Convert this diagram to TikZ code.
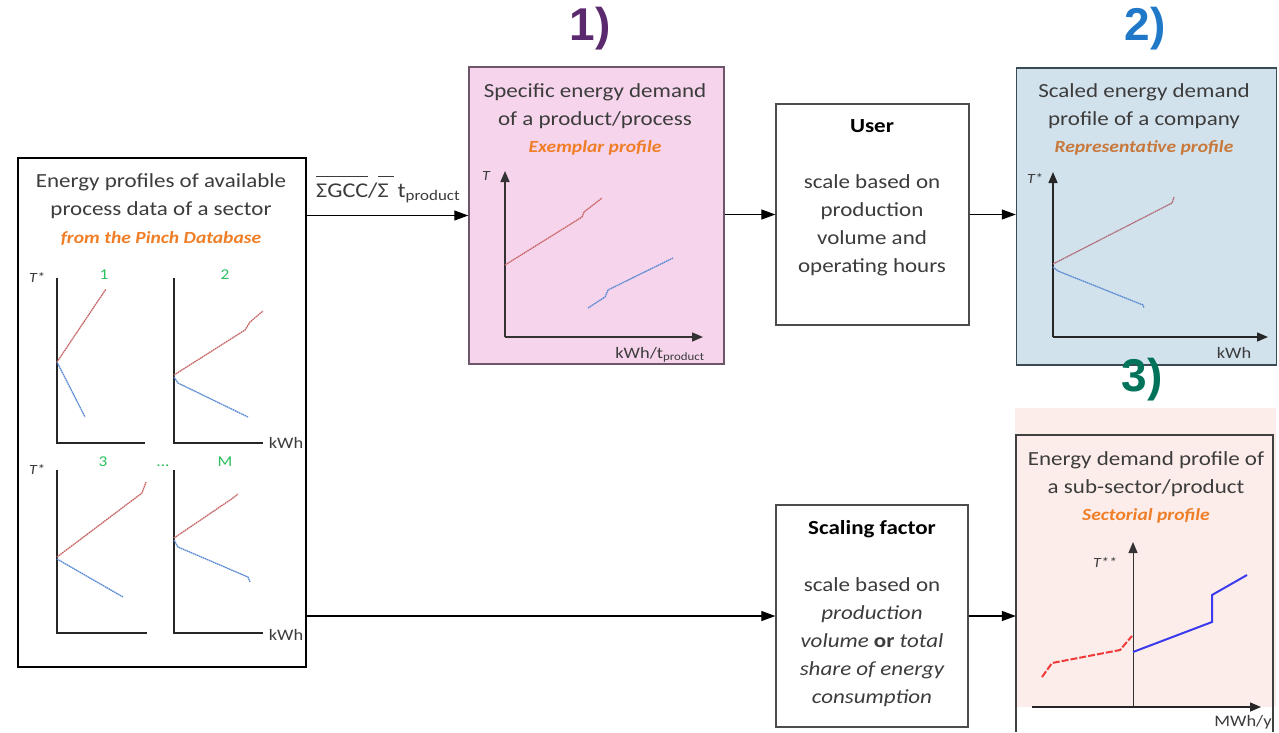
\documentclass[tikz,border=0pt]{standalone}
\usepackage{fontspec}
\setmainfont{Carlito}[FakeStretch=1.15]
\newfontfamily\numfont{Liberation Sans}
\usetikzlibrary{arrows.meta}
\definecolor{pinkfill}{HTML}{F6D5EC}
\definecolor{pinkline}{HTML}{6E566A}
\definecolor{bluefill}{HTML}{D2E2EC}
\definecolor{blueline}{HTML}{3A4A52}
\definecolor{secfill}{HTML}{FCEDEA}
\definecolor{txtgray}{HTML}{3C3C3C}
\definecolor{orng}{HTML}{F07E26}
\definecolor{orngb}{HTML}{C8783A}
\definecolor{grn}{HTML}{2CBF5E}
\definecolor{redc}{HTML}{C86868}
\definecolor{redc2}{HTML}{B06A78}
\definecolor{bluec}{HTML}{5A8AD2}
\definecolor{numpurple}{HTML}{5B2A6E}
\definecolor{numblue}{HTML}{1F78C8}
\definecolor{numgreen}{HTML}{00735A}
\definecolor{secred}{HTML}{F03A3A}
\definecolor{secblue}{HTML}{3A3AEE}
\tikzset{
  box/.style={draw, line width=1.5pt, inner sep=0pt},
  ln/.style={anchor=base, inner sep=0pt, text=txtgray, font=\fontsize{20}{24}\selectfont},
  lnb/.style={ln, font=\fontsize{20}{24}\selectfont\bfseries, text=black},
  lni/.style={ln, font=\fontsize{20}{24}\selectfont\itshape},
  orl/.style={anchor=base, inner sep=0pt, font=\fontsize{17}{20}\selectfont\bfseries\itshape},
  small/.style={anchor=base, inner sep=0pt, text=txtgray, font=\fontsize{16}{18}\selectfont},
  tl/.style={anchor=base, inner sep=0pt, text=txtgray, font=\fontsize{14}{16}\selectfont\itshape},
  gl/.style={anchor=base, inner sep=0pt, text=grn, font=\fontsize{15}{17}\selectfont},
  num/.style={inner sep=0pt, font=\fontsize{46}{50}\selectfont\numfont\bfseries},
  arr/.style={line width=1.2pt, -{Triangle[length=14pt,width=10pt]}},
  axis/.style={line width=1.5pt, black!85},
  axarr/.style={line width=1.5pt, -{Triangle[length=11pt,width=9pt]}},
  rcurve/.style={line width=1.3pt, redc, dash pattern=on 1.6pt off 0.6pt},
  bcurve/.style={line width=1.3pt, bluec, dash pattern=on 1.6pt off 0.6pt}
}
\begin{document}
\begin{tikzpicture}[x=1pt,y=-1pt]
\useasboundingbox (0,0) rectangle (1279,732);
\fill[white] (0,0) rectangle (1279,732);

% ---------- boxes ----------
\node[box, minimum width=288pt, minimum height=509pt] (src) at (162,412.5) {};
\node[box, draw=pinkline, fill=pinkfill, minimum width=255pt, minimum height=297pt] (ex) at (596.5,215.5) {};
\node[box, draw=black!70, line width=1.3pt, minimum width=193pt, minimum height=221pt] (usr) at (872.5,214.5) {};
\node[box, draw=blueline, fill=bluefill, minimum width=260pt, minimum height=297pt] (co) at (1146.5,216.5) {};
\node[box, draw=black!70, line width=1.3pt, minimum width=192pt, minimum height=222pt] (sf) at (872,616) {};
\fill[secfill] (1015,408) rectangle (1276,707);
\node[draw=none, minimum width=257pt, minimum height=297pt, inner sep=0pt] (sec) at (1144.5,583.5) {};
\draw[line width=1.5pt, draw=black!75] (sec.south west) -- (sec.north west) -- (sec.north east) -- (sec.south east);

% ---------- step numbers ----------
\node[num, text=numpurple] (n1) at (590,29) {1)};
\node[num, text=numblue] (n2) at (1145,29) {2)};
\node[num, text=numgreen] (n3) at (1142,380) {3)};

% ---------- left box text ----------
\node[ln] (s1) at (161,187) {Energy profiles of available};
\node[ln] (s2) at (161,215) {process data of a sector};
\node[orl, text=orng] (s3) at (161,243) {from the Pinch Database};

% mini plots
\draw[axis] (57,278) -- (57,443) -- (145,443);
\draw[axis] (174,278) -- (174,443) -- (263,443);
\draw[axis] (57,470) -- (57,633) -- (147,633);
\draw[axis] (174,470) -- (174,633) -- (263,633);
\node[tl] (ta) at (37,282) {T*};
\node[tl] (tb) at (37,474) {T*};
\node[gl] (g1) at (104,279) {1};
\node[gl] (g2) at (225,279) {2};
\node[gl] (g3) at (103,466) {3};
\node[gl] (g4) at (163,466) {...};
\node[gl] (g5) at (225,466) {M};
\node[small] (ka) at (286,448) {kWh};
\node[small] (kb) at (286,640) {kWh};
\draw[rcurve] (57,362) -- (106,289);
\draw[bcurve] (57,362) -- (85,417);
\draw[rcurve] (174,375) -- (245,330) -- (250,322) -- (263,311);
\draw[bcurve] (174,377) -- (178,383) -- (248,417);
\draw[rcurve] (57,557) -- (142,493) -- (146,482);
\draw[bcurve] (57,559) -- (123,597);
\draw[rcurve] (174,538) -- (233,498) -- (238,494);
\draw[bcurve] (174,540) -- (178,547) -- (248,577) -- (250,582);

% ---------- pink box ----------
\node[ln] (e1) at (595,97) {Specific energy demand};
\node[ln] (e2) at (595,125) {of a product/process};
\node[orl, text=orng] (e3) at (595,152) {Exemplar profile};
\draw[axarr, draw=black!80] (505,337) -- (505,171);
\draw[axarr, draw=black!80] (505,337) -- (703,337);
\node[tl] (et) at (486,180) {T};
\node[small] (ek) at (660,358) {kWh/t\textsubscript{product}};
\draw[rcurve] (505,265) -- (582,217) -- (584,212) -- (602,198);
\draw[bcurve] (588,308) -- (605,297) -- (608,290) -- (673,258);

% ---------- user box ----------
\node[lnb] (u0) at (872,132) {User};
\node[ln] (u1) at (872,188) {scale based on};
\node[ln] (u2) at (872,216) {production};
\node[ln] (u3) at (872,244) {volume and};
\node[ln] (u4) at (872,272) {operating hours};

% ---------- blue box ----------
\node[ln] (c1) at (1144,97) {Scaled energy demand};
\node[ln] (c2) at (1144,125) {profile of a company};
\node[orl, text=orngb] (c3) at (1144,152) {Representative profile};
\draw[axarr, draw=black!85] (1053,337) -- (1053,172);
\draw[axarr, draw=black!85] (1053,337) -- (1268,337);
\node[tl] (ct) at (1035,183) {T*};
\node[small] (ck) at (1234,358) {kWh};
\draw[rcurve, redc2] (1053,264) -- (1172,203) -- (1174,197);
\draw[bcurve] (1053,267) -- (1058,271) -- (1143,305) -- (1144,308);

% ---------- scaling factor box ----------
\node[lnb] (f0) at (872,534) {Scaling factor};
\node[ln] (f1) at (872,591) {scale based on};
\node[lni] (f2) at (872,619) {production};
\node[ln] (f3) at (872,647) {\textit{volume} \textbf{or} \textit{total}};
\node[lni] (f4) at (872,675) {share of energy};
\node[lni] (f5) at (872,703) {consumption};

% ---------- sectorial box ----------
\node[ln] (r1) at (1146,465) {Energy demand profile of};
\node[ln] (r2) at (1146,493) {a sub-sector/product};
\node[orl, text=orng] (r3) at (1146,520) {Sectorial profile};
\draw[line width=1pt, black!80, -{Triangle[length=11pt,width=9pt]}] (1133,707) -- (1133,542);
\draw[line width=1.5pt, black!85, -{Triangle[length=11pt,width=9pt]}] (1032,707) -- (1261,707);
\node[tl] (rt) at (1105,567) {T**};
\node[small] (rk) at (1243,726) {MWh/y};
\draw[line width=2pt, secred, dash pattern=on 7pt off 2pt] (1042,677) -- (1052,663) -- (1120,650) -- (1132,636);
\draw[line width=2pt, secblue] (1133,652) -- (1212,622) -- (1212,595) -- (1247,575);

% ---------- connectors ----------
\draw[arr] (src.east |- ex.west) -- (ex.west);
\node[anchor=base west, inner sep=0pt, text=txtgray, font=\fontsize{21}{24}\selectfont] (lab) at (316,197)
  {$\overline{\hbox{\vrule height 19pt width 0pt ΣGCC}}$/$\overline{\hbox{\vrule height 19pt width 0pt Σ\ }}$\,t\textsubscript{product}};
\draw[arr] (ex.east |- usr.west) -- (usr.west);
\draw[arr] (usr.east) -- (usr.east -| co.west);
\draw[arr] (src.east |- sf.west) -- (sf.west);
\draw[arr] (sf.east) -- (sf.east -| sec.west);
\end{tikzpicture}
\end{document}
